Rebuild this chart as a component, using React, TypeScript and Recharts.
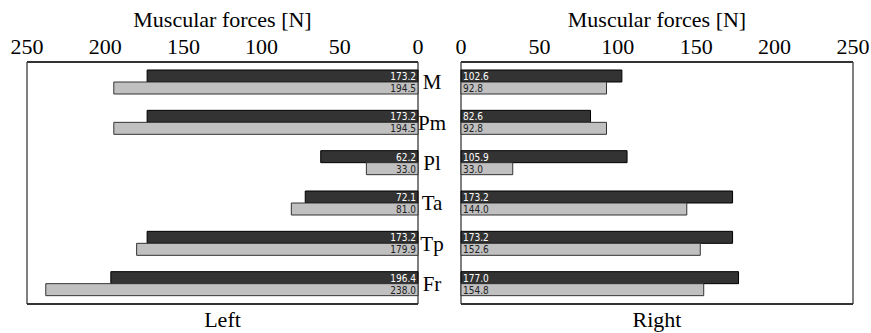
import React from "react";
import { BarChart, Bar, XAxis, YAxis, CartesianGrid, LabelList, Label } from "recharts";

const categories = ["M", "Pm", "Pl", "Ta", "Tp", "Fr"];
const leftDark = [173.2, 173.2, 62.2, 72.1, 173.2, 196.4];
const leftLight = [194.5, 194.5, 33.0, 81.0, 179.9, 238.0];
const rightDark = [102.6, 82.6, 105.9, 173.2, 173.2, 177.0];
const rightLight = [92.8, 92.8, 33.0, 144.0, 152.6, 154.8];
const forceTicks = [0, 50, 100, 150, 200, 250];

const leftData = categories.map((c, i) => ({ name: c, dark: leftDark[i], light: leftLight[i] }));
const rightData = categories.map((c, i) => ({ name: c, dark: rightDark[i], light: rightLight[i] }));

const SERIF = "'Liberation Serif', 'Times New Roman', serif";
const NARROW = "'Liberation Sans Narrow', 'DejaVu Sans Condensed', 'DejaVu Sans', sans-serif";

const makeLabel = (side: "left" | "right", color: string) => (props: any) => {
  const { x, y, width, height, value } = props;
  const x0 = Math.min(x, x + width);
  const x1 = Math.max(x, x + width);
  const tx = side === "left" ? x1 - 2 : x0 + 2;
  return (
    <text
      x={tx}
      y={y + height / 2 + 0.5}
      fill={color}
      fontSize={10}
      fontFamily={NARROW}
      textAnchor={side === "left" ? "end" : "start"}
      dominantBaseline="central"
    >
      {Number(value).toFixed(1)}
    </text>
  );
};

const CatTick = (props: any) => {
  const { x, y, payload } = props;
  return (
    <text x={x - 21} y={y} dy={7} textAnchor="middle" fontFamily={SERIF} fontSize={21} fill="#000">
      {payload.value}
    </text>
  );
};

const NumTick = (props: any) => {
  const { x, y, payload } = props;
  return (
    <text x={x} y={y} dy={0} textAnchor="middle" fontFamily={SERIF} fontSize={22} fill="#000">
      {payload.value}
    </text>
  );
};

const labelStyle = { fontFamily: SERIF, fontSize: 22, fill: "#000" };

export default function App() {
  return (
    <div style={{ position: "absolute", left: 0, top: 0, width: 871, height: 333, background: "#fff", fontFamily: SERIF }}>
      <div style={{ position: "absolute", left: 0, top: 0 }}>
        <BarChart
          width={440}
          height={333}
          data={leftData}
          layout="vertical"
          margin={{ top: 0, right: 22, bottom: 0, left: 27 }}
          barGap={0}
          barSize={12}
          style={{ fontFamily: SERIF }}
        >
          <CartesianGrid horizontal={false} vertical stroke="#000" strokeWidth={1} />
          <XAxis
            xAxisId="top"
            type="number"
            orientation="top"
            domain={[0, 250]}
            ticks={forceTicks}
            reversed
            height={62}
            tickSize={0}
            tickMargin={8}
            tick={<NumTick />}
            axisLine={{ stroke: "#333", strokeWidth: 2 }}
            interval={0}
          >
            <Label value="Muscular forces [N]" position="insideTop" offset={11.5} style={labelStyle} />
          </XAxis>
          <XAxis
            xAxisId="bottom"
            type="number"
            orientation="bottom"
            domain={[0, 250]}
            reversed
            height={29}
            tick={false}
            tickLine={false}
            axisLine={{ stroke: "#333", strokeWidth: 2 }}
          >
            <Label value="Left" position="insideBottom" offset={6} style={labelStyle} />
          </XAxis>
          <YAxis type="category" dataKey="name" hide />
          <Bar xAxisId="top" dataKey="dark" fill="#333333" stroke="#000" strokeWidth={1} isAnimationActive={false}>
            <LabelList dataKey="dark" content={makeLabel("left", "#fff")} />
          </Bar>
          <Bar xAxisId="top" dataKey="light" fill="#c0c0c0" stroke="#333" strokeWidth={1} isAnimationActive={false}>
            <LabelList dataKey="light" content={makeLabel("left", "#222")} />
          </Bar>
        </BarChart>
      </div>
      <div style={{ position: "absolute", left: 418, top: 0 }}>
        <BarChart
          width={453}
          height={333}
          data={rightData}
          layout="vertical"
          margin={{ top: 0, right: 18, bottom: 0, left: 0 }}
          barGap={0}
          barSize={12}
          style={{ fontFamily: SERIF }}
        >
          <CartesianGrid horizontal={false} vertical stroke="#000" strokeWidth={1} />
          <XAxis
            xAxisId="top"
            type="number"
            orientation="top"
            domain={[0, 250]}
            ticks={forceTicks}
            height={62}
            tickSize={0}
            tickMargin={8}
            tick={<NumTick />}
            axisLine={{ stroke: "#333", strokeWidth: 2 }}
            interval={0}
          >
            <Label value="Muscular forces [N]" position="insideTop" offset={11.5} style={labelStyle} />
          </XAxis>
          <XAxis
            xAxisId="bottom"
            type="number"
            orientation="bottom"
            domain={[0, 250]}
            height={29}
            tick={false}
            tickLine={false}
            axisLine={{ stroke: "#333", strokeWidth: 2 }}
          >
            <Label value="Right" position="insideBottom" offset={6} style={labelStyle} />
          </XAxis>
          <YAxis
            type="category"
            dataKey="name"
            width={43}
            axisLine={false}
            tickLine={false}
            tick={<CatTick />}
            interval={0}
          />
          <Bar xAxisId="top" dataKey="dark" fill="#333333" stroke="#000" strokeWidth={1} isAnimationActive={false}>
            <LabelList dataKey="dark" content={makeLabel("right", "#fff")} />
          </Bar>
          <Bar xAxisId="top" dataKey="light" fill="#c0c0c0" stroke="#333" strokeWidth={1} isAnimationActive={false}>
            <LabelList dataKey="light" content={makeLabel("right", "#222")} />
          </Bar>
        </BarChart>
      </div>
    </div>
  );
}
